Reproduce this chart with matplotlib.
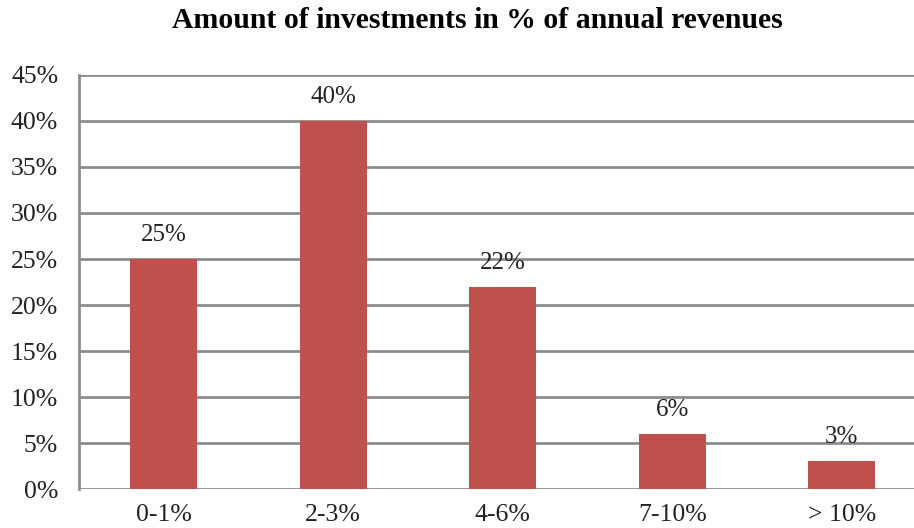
import matplotlib.pyplot as plt
from matplotlib.ticker import FuncFormatter

# data
categories = ['0-1%', '2-3%', '4-6%', '7-10%', '> 10%']
shares = [25, 40, 22, 6, 3]
y_ticks = [0, 5, 10, 15, 20, 25, 30, 35, 40, 45]

plt.rcParams['font.family'] = 'Liberation Serif'

fig = plt.figure(figsize=(9.14, 5.28), dpi=100)
# plot area runs past the right edge, like the cropped original
ax = fig.add_axes([79 / 914, 39 / 528, 847.5 / 914, 414 / 528])

x = range(len(categories))
bars = ax.bar(x, shares, width=0.395, color='#C0504D', zorder=3)

for xi, v in zip(x, shares):
    ax.annotate(f'{v}%', (xi, v), xytext=(0, 13), textcoords='offset points',
                ha='center', va='baseline', fontsize=18, color='#222222')

ax.set_xlim(-0.5, len(categories) - 0.5)
ax.set_ylim(0, 45)
ax.set_yticks(y_ticks)
ax.yaxis.set_major_formatter(FuncFormatter(lambda v, p: f'{v:.0f}%'))
ax.set_xticks(list(x))
ax.set_xticklabels(categories)
ax.tick_params(axis='both', length=0, labelsize=18.5, labelcolor='#222222')
ax.tick_params(axis='y', pad=15)
ax.tick_params(axis='x', pad=11)

ax.grid(axis='y', color='#8c8c8c', linewidth=2, zorder=0)
for side in ['top', 'right', 'bottom']:
    ax.spines[side].set_visible(False)
ax.spines['left'].set_color('#8c8c8c')
ax.spines['left'].set_linewidth(2)

fig.text(477 / 914, 1 - 21 / 528, 'Amount of investments in % of annual revenues',
         ha='center', va='center', fontsize=21.4, fontweight='bold', color='black')

fig.savefig('out.png', dpi=100)
